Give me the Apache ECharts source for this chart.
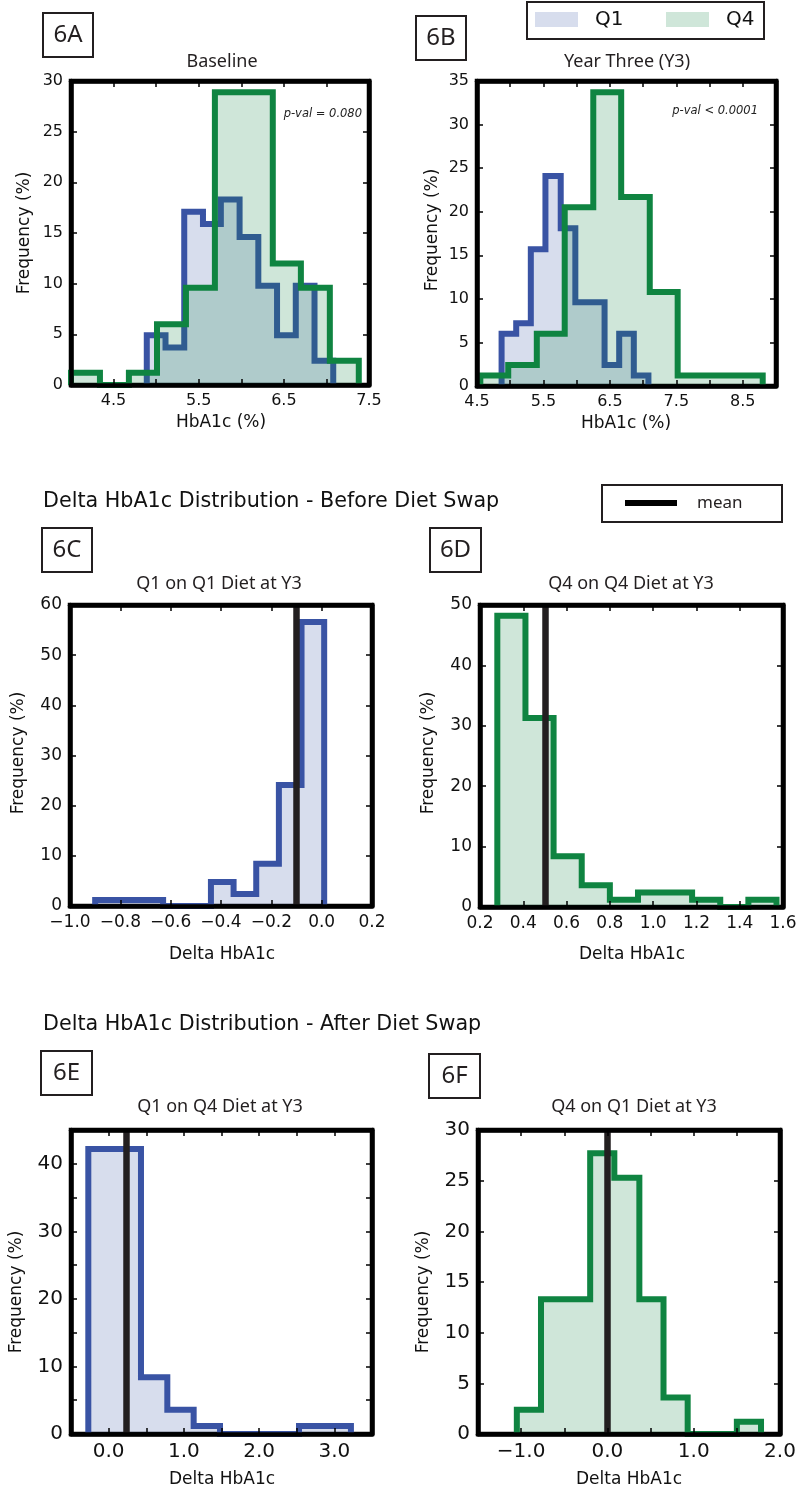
<!DOCTYPE html>
<html>
<head>
<meta charset="utf-8">
<script src="https://cdn.jsdelivr.net/npm/echarts@6/dist/echarts.min.js"></script>
<style>
html, body { margin: 0; padding: 0; background: #fff; }
#chart { width: 800px; height: 1490px; }
</style>
</head>
<body>
<div id="chart"></div>
<script>
// 6A  Baseline HbA1c (bin edges + frequency %)
var aQ1Edges = [4.89, 5.11, 5.33, 5.55, 5.76, 5.98, 6.20, 6.42, 6.64, 6.86, 7.08];
var aQ1Freq  = [4.9, 3.7, 17.1, 15.9, 18.3, 14.6, 9.8, 4.9, 9.8, 2.4];
var aQ4Edges = [4.00, 4.34, 4.68, 5.01, 5.35, 5.69, 6.03, 6.37, 6.70, 7.04, 7.38];
var aQ4Freq  = [1.2, 0, 1.2, 6.0, 9.6, 28.9, 28.9, 12.0, 9.6, 2.4];

// 6B  Year three
var bQ1Edges = [4.87, 5.09, 5.31, 5.53, 5.76, 5.98, 6.20, 6.42, 6.64, 6.86, 7.08];
var bQ1Freq  = [6.0, 7.2, 15.7, 24.1, 18.1, 9.6, 9.6, 2.4, 6.0, 1.2];
var bQ4Edges = [4.55, 4.97, 5.40, 5.82, 6.25, 6.67, 7.10, 7.52, 7.95, 8.37, 8.80];
var bQ4Freq  = [1.2, 2.4, 6.0, 20.5, 33.7, 21.7, 10.8, 1.2, 1.2, 1.2];

// 6C  Q1 on Q1 diet
var cEdges = [-0.90, -0.81, -0.72, -0.63, -0.54, -0.44, -0.35, -0.26, -0.17, -0.08, 0.01];
var cFreq  = [1.2, 1.2, 1.2, 0, 0, 4.8, 2.4, 8.4, 24.1, 56.6];
var cMean  = -0.10;

// 6D  Q4 on Q4 diet
var dEdges = [0.28, 0.41, 0.54, 0.67, 0.80, 0.93, 1.06, 1.18, 1.31, 1.44, 1.57];
var dFreq  = [48.2, 31.3, 8.4, 3.6, 1.2, 2.4, 2.4, 1.2, 0, 1.2];
var dMean  = 0.50;

// 6E  Q1 on Q4 diet
var eEdges = [-0.27, 0.08, 0.43, 0.78, 1.13, 1.48, 1.83, 2.18, 2.53, 2.87, 3.22];
var eFreq  = [42.2, 42.2, 8.4, 3.6, 1.2, 0, 0, 0, 1.2, 1.2];
var eMean  = 0.23;

// 6F  Q4 on Q1 diet
var fEdges = [-1.05, -0.77, -0.48, -0.20, 0.08, 0.37, 0.65, 0.93, 1.22, 1.50, 1.78];
var fFreq  = [2.4, 13.3, 13.3, 27.7, 25.3, 13.3, 3.6, 0, 0, 1.2];
var fMean  = 0.00;

var blue = { line: '#3953a4', fill: 'rgba(57,83,164,0.2)' };
var green = { line: '#0f8441', fill: 'rgba(15,132,65,0.2)' };
var ink = '#231f20';

// outline of a histogram as a closed step path
function steps(edges, freq) {
    var pts = [[edges[0], 0]];
    for (var i = 0; i < freq.length; i++) {
        pts.push([edges[i], freq[i]]);
        pts.push([edges[i + 1], freq[i]]);
    }
    pts.push([edges[edges.length - 1], 0]);
    return pts;
}

function num(v) {
    return (v < -1e-9 ? '\u2212' : '') + Math.abs(v).toFixed(1);
}
function near(a, b) { return Math.abs(a - b) < 1e-6; }
var xHalf = function (v) { return near(v - Math.floor(v), 0.5) ? num(v) : ''; };
var xAll = function (v) { return num(v); };
var xInt = function (v) { return near(v, Math.round(v)) ? num(v) : ''; };
var yAll = function (v) { return String(Math.round(v)); };
var yTen = function (v) { return near(v % 10, 0) ? String(Math.round(v)) : ''; };

var panels = [
    { rect: [71, 81, 298, 304], x: [4.0, 7.5, 0.5], y: [0, 30, 5], xFmt: xHalf, yFmt: yAll, font: 16,
      hists: [[aQ1Edges, aQ1Freq, blue], [aQ4Edges, aQ4Freq, green]] },
    { rect: [477, 81, 299, 305], x: [4.5, 9.0, 0.5], y: [0, 35, 5], xFmt: xHalf, yFmt: yAll, font: 16,
      hists: [[bQ1Edges, bQ1Freq, blue], [bQ4Edges, bQ4Freq, green]] },
    { rect: [70, 605, 302, 301], x: [-1.0, 0.2, 0.2], y: [0, 60, 10], xFmt: xAll, yFmt: yAll, font: 17,
      hists: [[cEdges, cFreq, blue]], mean: cMean },
    { rect: [480, 605, 303, 302], x: [0.2, 1.6, 0.2], y: [0, 50, 10], xFmt: xAll, yFmt: yAll, font: 17,
      hists: [[dEdges, dFreq, green]], mean: dMean },
    { rect: [71, 1130, 301, 304], x: [-0.5, 3.5, 0.5], y: [0, 45, 5], xFmt: xInt, yFmt: yTen, font: 20,
      hists: [[eEdges, eFreq, blue]], mean: eMean },
    { rect: [478, 1130, 302, 304], x: [-1.5, 2.0, 0.5], y: [0, 30, 5], xFmt: xInt, yFmt: yAll, font: 20,
      hists: [[fEdges, fFreq, green]], mean: fMean }
];

function axis(gi, range, pos, fmt, font) {
    return {
        type: 'value', gridIndex: gi, position: pos, z: 10,
        min: range[0], max: range[1], interval: range[2],
        axisLine: { show: true, onZero: false, lineStyle: { color: '#000', width: 4.5 } },
        axisTick: { show: true, inside: true, length: 6, lineStyle: { color: '#000', width: 1.5 } },
        axisLabel: fmt ? { show: true, formatter: fmt, fontFamily: 'DejaVu Sans', fontSize: font, color: '#111', margin: 8 } : { show: false },
        splitLine: { show: false }
    };
}

var option = { animation: false, grid: [], xAxis: [], yAxis: [], series: [], graphic: [] };

panels.forEach(function (p, i) {
    option.grid.push({ left: p.rect[0], top: p.rect[1], width: p.rect[2], height: p.rect[3],
        show: true, borderColor: '#000', borderWidth: 4.5, backgroundColor: 'transparent' });
    option.xAxis.push(axis(i, p.x, 'bottom', p.xFmt, p.font));
    option.xAxis.push(axis(i, p.x, 'top', null));
    option.yAxis.push(axis(i, p.y, 'left', p.yFmt, p.font));
    option.yAxis.push(axis(i, p.y, 'right', null));
    p.hists.forEach(function (h, k) {
        var s = {
            type: 'line', xAxisIndex: 2 * i, yAxisIndex: 2 * i, silent: true,
            data: steps(h[0], h[1]), symbol: 'none', z: 2 + k,
            lineStyle: { color: h[2].line, width: 6, join: 'miter', cap: 'butt' },
            areaStyle: { color: h[2].fill, opacity: 1 }
        };
        if (p.mean !== undefined) {
            s.markLine = { silent: true, symbol: ['none', 'none'], label: { show: false },
                lineStyle: { color: ink, width: 6.5, type: 'solid' }, data: [{ xAxis: p.mean }] };
        }
        option.series.push(s);
    });
});

function text(str, x, y, font, opts) {
    opts = opts || {};
    return {
        type: 'text', x: x, y: y, rotation: opts.rot || 0, z: 20, silent: true,
        style: { text: str, font: font, fill: opts.color || '#111',
            align: opts.align || 'center', verticalAlign: 'middle',
            textAlign: opts.align || 'center', textVerticalAlign: 'middle' }
    };
}
function box(x, y, w, h) {
    return { type: 'rect', z: 20, silent: true, shape: { x: x, y: y, width: w, height: h },
        style: { fill: '#fff', stroke: ink, lineWidth: 2 } };
}

var tagFont = '24px "Noto Sans"';
var titleFont = '18px "Noto Sans"';
var nameFont = '17px "DejaVu Sans"';
var g = option.graphic;

// panel tags
[['6A', 43, 13, 50], ['6B', 416, 16, 50], ['6C', 42, 528, 50],
 ['6D', 430, 528, 51], ['6E', 41, 1051, 51], ['6F', 429, 1054, 51]].forEach(function (t) {
    g.push(box(t[1], t[2], t[3], 44));
    g.push(text(t[0], t[1] + t[3] / 2, t[2] + 22, tagFont, { color: ink }));
});

// subplot titles
[['Baseline', 222, 62], ['Year Three (Y3)', 627, 62],
 ['Q1 on Q1 Diet at Y3', 219, 584], ['Q4 on Q4 Diet at Y3', 631, 584],
 ['Q1 on Q4 Diet at Y3', 220, 1107], ['Q4 on Q1 Diet at Y3', 634, 1107]].forEach(function (t) {
    g.push(text(t[0], t[1], t[2], titleFont, { color: ink }));
});

// axis names
[[25, 233], [433, 230], [19, 753], [429, 753], [17, 1292], [424, 1292]].forEach(function (t) {
    g.push(text('Frequency (%)', t[0], t[1], nameFont, { rot: Math.PI / 2 }));
});
[['HbA1c (%)', 221, 423], ['HbA1c (%)', 626, 424],
 ['Delta HbA1c', 222, 955], ['Delta HbA1c', 632, 955],
 ['Delta HbA1c', 222, 1480], ['Delta HbA1c', 629, 1480]].forEach(function (t) {
    g.push(text(t[0], t[1], t[2], nameFont));
});

// p-values
g.push(text('p-val = 0.080', 362, 114, 'italic 11.5px "DejaVu Sans"', { align: 'right', color: '#222' }));
g.push(text('p-val < 0.0001', 758, 111, 'italic 11.5px "DejaVu Sans"', { align: 'right', color: '#222' }));

// section headings
g.push(text('Delta HbA1c Distribution - Before Diet Swap', 43, 502, '20.7px "DejaVu Sans"', { align: 'left' }));
g.push(text('Delta HbA1c Distribution - After Diet Swap', 43, 1025, '20.7px "DejaVu Sans"', { align: 'left' }));

// Q1 / Q4 legend
g.push(box(527, 2, 237, 37));
g.push({ type: 'rect', z: 21, silent: true, shape: { x: 535, y: 12, width: 43, height: 15 }, style: { fill: blue.fill } });
g.push({ type: 'rect', z: 21, silent: true, shape: { x: 666, y: 12, width: 43, height: 15 }, style: { fill: green.fill } });
g.push(text('Q1', 595, 20, '20px "DejaVu Sans"', { align: 'left' }));
g.push(text('Q4', 726, 20, '20px "DejaVu Sans"', { align: 'left' }));

// mean legend
g.push(box(602, 485, 180, 37));
g.push({ type: 'line', z: 21, silent: true, shape: { x1: 625, y1: 503, x2: 677, y2: 503 }, style: { stroke: '#000', lineWidth: 6 } });
g.push(text('mean', 697, 503, '17px "Noto Sans"', { align: 'left', color: ink }));

var chart = echarts.init(document.getElementById('chart'));
chart.setOption(option);
</script>
</body>
</html>
